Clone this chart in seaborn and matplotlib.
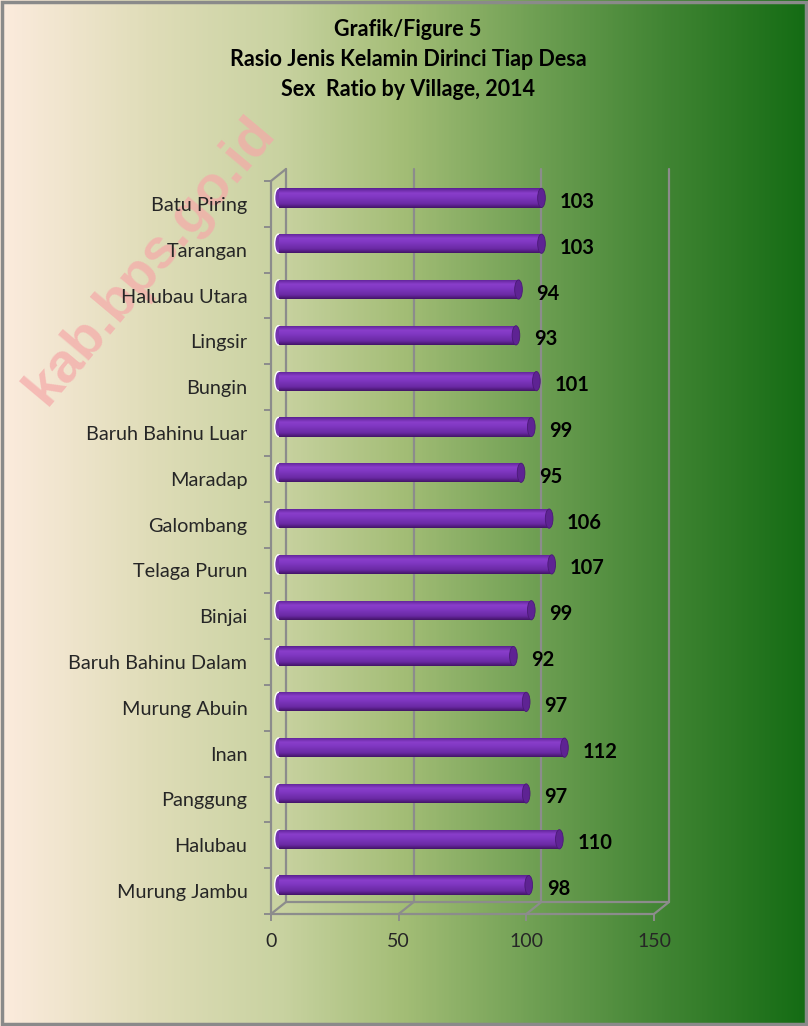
import numpy as np
import pandas as pd
import matplotlib
matplotlib.use("Agg")
import matplotlib.pyplot as plt
import seaborn as sns
from matplotlib.colors import LinearSegmentedColormap
from matplotlib.patches import Ellipse, Rectangle
from matplotlib.transforms import ScaledTranslation

# data
villages = ["Batu Piring", "Tarangan", "Halubau Utara", "Lingsir", "Bungin",
            "Baruh Bahinu Luar", "Maradap", "Galombang", "Telaga Purun", "Binjai",
            "Baruh Bahinu Dalam", "Murung Abuin", "Inan", "Panggung", "Halubau",
            "Murung Jambu"]
ratios = [103, 103, 94, 93, 101, 99, 95, 106, 107, 99, 92, 97, 112, 97, 110, 98]
x_ticks = [0, 50, 100, 150]
title_lines = ["Grafik/Figure 5", "Rasio Jenis Kelamin Dirinci Tiap Desa",
               "Sex  Ratio by Village, 2014"]

sns.set_style("white")
plt.rcParams['font.family'] = ['Lato', 'DejaVu Sans']

W, H = 808, 1026
fig = plt.figure(figsize=(W / 100, H / 100), dpi=100)

# gradient background
bg = fig.add_axes([0, 0, 1, 1])
bg_cmap = LinearSegmentedColormap.from_list("bg", [
    (0.0, (252/255, 235/255, 221/255)),
    (0.18, (224/255, 221/255, 185/255)),
    (0.35, (200/255, 210/255, 160/255)),
    (0.50, (163/255, 189/255, 118/255)),
    (0.66, (112/255, 160/255, 84/255)),
    (0.82, (66/255, 133/255, 52/255)),
    (1.0, (20/255, 108/255, 20/255))])
bg.imshow(np.linspace(0, 1, 400)[None, :], cmap=bg_cmap, aspect='auto',
          extent=[0, 1, 0, 1])
bg.set_xlim(0, 1)
bg.set_ylim(0, 1)
bg.axis('off')
bg.add_patch(Rectangle((0.002, 0.002), 0.996, 0.996, fill=False,
                       edgecolor='#8a8a8a', lw=2.5, transform=bg.transAxes))

# watermark
bg.text(0.186, 0.745, "kab.bps.go.id", rotation=50, fontsize=40,
        fontweight='bold', color='#f5a8a8', alpha=0.7, ha='center',
        va='center', transform=bg.transAxes,
        family=['Liberation Sans', 'DejaVu Sans'])

# title
for i, line in enumerate(title_lines):
    fig.text(408 / W, 1 - (29 + i * 30) / H, line, ha='center', va='center',
             fontsize=15.5, fontweight='bold', color='black')

# plot area (front plane)
left, right, top, bottom = 271, 654, 181, 914
ax = fig.add_axes([left / W, 1 - bottom / H, (right - left) / W, (bottom - top) / H])
ax.patch.set_alpha(0)

df = pd.DataFrame({"village": villages, "ratio": ratios})
sns.barplot(data=df, x="ratio", y="village", orient='h', ax=ax,
            color='#7a32b8', width=0.42, saturation=1)

ax.set_xlim(0, 150)
ax.set_ylim(len(villages) - 0.5, -0.5)
for s in ax.spines.values():
    s.set_visible(False)

grey = '#8c8c8c'
dx, dy = 15 / 100, 12 / 100
back = ax.transData + ScaledTranslation(dx, dy, fig.dpi_scale_trans)
mid = ax.transData + ScaledTranslation(dx / 2, dy / 2, fig.dpi_scale_trans)
ybot, ytop = len(villages) - 0.5, -0.5

# back wall and floor
for t in x_ticks:
    ax.plot([t, t], [ybot, ytop], color=grey, lw=1.6, transform=back, clip_on=False, zorder=1)
ax.plot([0, 150], [ybot, ybot], color=grey, lw=1.6, transform=back, clip_on=False, zorder=1)
ax.plot([0, 0], [ybot, ytop], color=grey, lw=1.6, clip_on=False, zorder=1)
ax.plot([0, 150], [ybot, ybot], color=grey, lw=1.6, clip_on=False, zorder=1)
to_fig = fig.transFigure.inverted()
for pt in [(t, ybot) for t in x_ticks] + [(0, ytop)]:
    p0 = ax.transData.transform(pt)
    p1 = p0 + np.array([dx, dy]) * fig.dpi
    ax.plot(*zip(to_fig.transform(p0), to_fig.transform(p1)),
            color=grey, lw=1.6, transform=fig.transFigure, clip_on=False, zorder=1)

# cylinder bars
bar_cmap = LinearSegmentedColormap.from_list("bar", [
    (0.0, '#5a2091'), (0.25, '#8a3ecb'), (0.45, '#8038c2'),
    (0.8, '#6a29a3'), (1.0, '#431568')])
grad = np.linspace(0, 1, 64)[:, None]
for patch, val in zip(ax.patches, ratios):
    patch.set_transform(mid)
    patch.set_edgecolor('none')
    patch.set_zorder(3)
    x0, y0 = patch.get_x(), patch.get_y()
    w, h = patch.get_width(), patch.get_height()
    ax.add_patch(Ellipse((x0, y0 + h / 2), 3.0, h, facecolor='#7434b0',
                         transform=mid, zorder=2.9))
    im = ax.imshow(grad, cmap=bar_cmap, aspect='auto', extent=[x0, x0 + w, y0 + h, y0],
                   transform=mid, zorder=3.1, interpolation='bilinear')
    im.set_clip_path(patch)
    ax.add_patch(Ellipse((x0 + w, y0 + h / 2), 3.0, h, facecolor='#5e2393',
                         edgecolor='#4a1a76', lw=0.6, transform=mid, zorder=3.2))
    ax.annotate(f"{val}", (x0 + w, y0 + h / 2), xycoords=mid,
                xytext=(18, -4), textcoords='offset pixels', ha='left', va='center',
                fontsize=14.5, fontweight='bold', color='black', zorder=4)

ax.set_xlim(0, 150)
ax.set_ylim(len(villages) - 0.5, -0.5)
ax.set_xticks(x_ticks)
ax.set_xticklabels([str(t) for t in x_ticks], fontsize=14)
ax.set_yticks(range(len(villages)))
ax.set_yticklabels(villages, fontsize=14.3)
ax.set_xlabel("")
ax.set_ylabel("")
ax.tick_params(axis='y', length=0, pad=17)
ax.tick_params(axis='x', length=5, color=grey, width=1.4, pad=9, direction='out')
# minor ticks at category boundaries on the left axis
ax.set_yticks(np.arange(-0.5, len(villages)), minor=True)
ax.tick_params(axis='y', which='minor', length=5, color=grey, width=1.4, left=True)
ax.tick_params(axis='x', bottom=True)

fig.savefig("out.png", dpi=100)
